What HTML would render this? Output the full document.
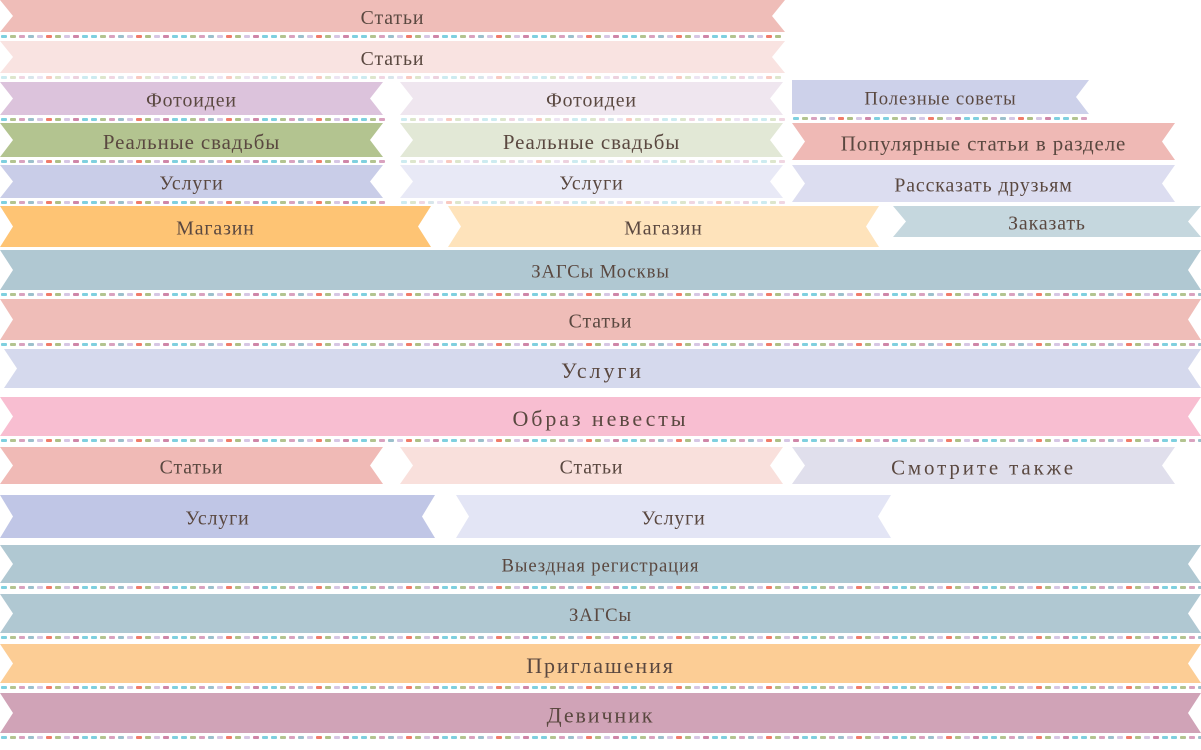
<!DOCTYPE html>
<html><head><meta charset="utf-8">
<style>
html,body{margin:0;padding:0;background:#fff;width:1201px;height:750px;overflow:hidden}
svg text{font-family:"Liberation Serif","DejaVu Serif",serif;fill:#5a4840;text-anchor:middle;dominant-baseline:central}
</style></head>
<body>
<svg id="s" width="1201" height="750" xmlns="http://www.w3.org/2000/svg"></svg>
<script>
// x, y, w, h, color, label, fontSize, leftNotch, rightNotch, dashes(0 none,1 bright,2 light), letterSpacing
const ribbons = [
 [0,0,785,32,'#efbdb8','Статьи',18,1,1,1,0],
 [0,41,785,32,'#f9e3e1','Статьи',18,1,1,2,0],
 [0,82,383,33,'#dcc3dc','Фотоидеи',18,1,1,1,0],
 [400,82,383,33,'#efe6ef','Фотоидеи',18,1,1,2,0],
 [792,80,297,34,'#cdd1ea','Полезные советы',17,0,1,1,0],
 [0,123,383,34,'#b3c490','Реальные свадьбы',19,1,1,1,0],
 [400,123,383,34,'#e2e8d6','Реальные свадьбы',19,1,1,2,0],
 [792,123,383,37,'#efb9b5','Популярные статьи в разделе',19,1,1,0,0],
 [0,165,383,33,'#c9cde8','Услуги',18,1,1,1,0],
 [400,165,383,33,'#e8e9f6','Услуги',18,1,1,2,0],
 [792,165,383,37,'#dcddf0','Рассказать друзьям',18,1,1,0,0],
 [0,206,431,41,'#fec474','Магазин',18,1,1,0,0],
 [448,206,431,41,'#fee3bb','Магазин',18,1,1,0,0],
 [893,206,308,31,'#c5d7de','Заказать',18,1,1,0,0],
 [0,250,1201,40,'#b0c8d2','ЗАГСы Москвы',17,1,1,1,0],
 [0,299,1201,41,'#efbdb8','Статьи',18,1,1,1,0],
 [4,349,1197,39,'#d5d9ed','Услуги',20,1,1,0,2],
 [0,397,1201,39,'#f8bed1','Образ невесты',20,1,1,1,2],
 [0,447,383,37,'#f0bab6','Статьи',18,1,1,0,0],
 [400,447,383,37,'#f9e0dc','Статьи',18,1,1,0,0],
 [792,447,383,37,'#e0dfec','Смотрите  также',19,1,1,0,2],
 [0,495,435,43,'#c0c6e6','Услуги',18,1,1,0,0],
 [456,495,435,43,'#e3e5f5','Услуги',18,1,1,0,0],
 [0,545,1201,38,'#b0c8d2','Выездная регистрация',17,1,1,1,0],
 [0,594,1201,39,'#b0c8d2','ЗАГСы',17,1,1,1,0],
 [0,644,1201,39,'#fccd95','Приглашения',20,1,1,1,1],
 [0,693,1201,40,'#d0a3b7','Девичник',20,1,1,1,1]
];
const bright=['#7fd0df','#b3c490','#d9a2bf','#9cc0cc','#d6c6e4','#f07c6a','#aebf86','#d6c6e4','#cf86a8','#7fd0df'];
const light=['#cdebf0','#dde6cc','#f0d6e2','#d8e6eb','#ece4f3','#f9c9c0','#dde6cc','#ece4f3','#edd1de','#cdebf0'];
const NS='http://www.w3.org/2000/svg';
const svg=document.getElementById('s');
ribbons.forEach((r,i)=>{
 const [x,y,w,h,c,t,fs,ln,rn,d,ls]=r;
 const n=13;
 const g=document.createElementNS(NS,'g');
 
 
 const p=document.createElementNS(NS,'polygon');
 const pts=[[x,y],[x+w,y],[rn?x+w-n:x+w,y+h/2],[x+w,y+h],[x,y+h],[ln?x+n:x,y+h/2]];
 p.setAttribute('points',pts.map(a=>a.join(',')).join(' '));
 p.setAttribute('fill',c);
 
 
 g.appendChild(p);
 const tx=document.createElementNS(NS,'text');
 tx.setAttribute('x',x+w/2);tx.setAttribute('y',y+h/2+2);
 tx.setAttribute('font-size',(fs*1.1).toFixed(1));
 tx.setAttribute('letter-spacing',ls+0.9);
 tx.setAttribute('xml:space','preserve');
 tx.textContent=t;
 
 
 g.appendChild(tx);
 if(d){
  const pal=d==1?bright:light;
  const dy=y+h+3;
  let k=0;
  for(let dx=x+1;dx<x+w-2;dx+=9){
   const rc=document.createElementNS(NS,'rect');
   rc.setAttribute('x',dx);rc.setAttribute('y',dy);
   rc.setAttribute('width',6);rc.setAttribute('height',3);rc.setAttribute('rx',1);
   rc.setAttribute('fill',pal[k++%pal.length]);
   
   
   g.appendChild(rc);
  }
 }
 svg.appendChild(g);
});
</script>
</body></html>
